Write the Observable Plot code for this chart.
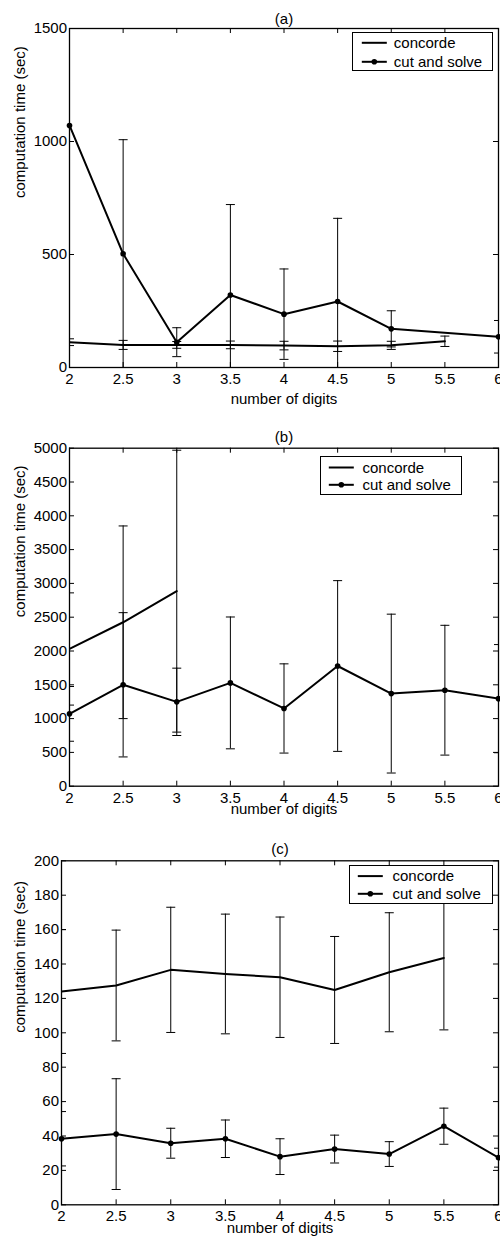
<!DOCTYPE html>
<html><head><meta charset="utf-8">
<script src="https://cdn.jsdelivr.net/npm/d3@7"></script>
<script src="https://cdn.jsdelivr.net/npm/@observablehq/plot@0.6"></script>
<style>
html,body{margin:0;padding:0;background:#fff;overflow:hidden}
#root{position:relative;width:500px;height:1243px;overflow:hidden;font-family:"Liberation Sans",Arial,sans-serif}
.panel{position:absolute;left:0;width:500px}
.panel svg{display:block;overflow:hidden}
.legend{position:absolute;background:#fff;border:1.2px solid #000;box-sizing:border-box}
.legend svg{display:block}
</style></head><body><div id="root"></div>
<script>
// ---------- data ----------
const digits = [2, 2.5, 3, 3.5, 4, 4.5, 5, 5.5, 6];
const xTicks = [2, 2.5, 3, 3.5, 4, 4.5, 5, 5.5, 6];
const seriesNames = ["concorde", "cut and solve"];

// (a)
const aConcordeDigits = [2, 2.5, 3, 3.5, 4, 4.5, 5, 5.5];
const aConcordeTime   = [112, 100, 100, 100, 97, 94, 98, 116];
const aConcordeErr    = [15, 20, 15, 17, 19, 23, 18, 23];
const aCutDigits = [2, 2.5, 3, 3.5, 4, 4.5, 5, 6];
const aCutTime   = [1071, 503, 112, 321, 236, 292, 171, 136];
const aCutErr    = [1100, 505, 64, 400, 200, 368, 80, 72];
const aYTicks = [0, 500, 1000, 1500];

// (b)
const bConcordeDigits = [2, 2.5, 3];
const bConcordeTime   = [2030, 2425, 2885];
const bConcordeErr    = [830, 1425, 2085];
const bCutDigits = [2, 2.5, 3, 3.5, 4, 4.5, 5, 5.5, 6];
const bCutTime   = [1070, 1500, 1248, 1528, 1150, 1778, 1370, 1420, 1295];
const bCutErr    = [405, 1067, 498, 975, 660, 1263, 1175, 960, 800];
const bYTicks = [0, 500, 1000, 1500, 2000, 2500, 3000, 3500, 4000, 4500, 5000];

// (c)
const cConcordeDigits = [2, 2.5, 3, 3.5, 4, 4.5, 5, 5.5];
const cConcordeTime   = [124, 127.5, 136.6, 134.2, 132.3, 124.9, 135.2, 143.5];
const cConcordeErr    = [36, 32.2, 36.4, 34.8, 35, 31.1, 34.6, 41.8];
const cCutDigits = [2, 2.5, 3, 3.5, 4, 4.5, 5, 5.5, 6];
const cCutTime   = [38.4, 41.1, 35.8, 38.4, 28.0, 32.4, 29.5, 45.7, 27.4];
const cCutErr    = [15.8, 32.2, 8.7, 10.9, 10.4, 8.1, 7.2, 10.5, 5.5];
const cYTicks = [0, 20, 40, 60, 80, 100, 120, 140, 160, 180, 200];

const titles = ["(a)", "(b)", "(c)"];
const xLabel = "number of digits";
const yLabel = "computation time (sec)";

// ---------- helpers ----------
const FONT = '"Liberation Sans", Arial, Helvetica, sans-serif';
const capSymbol = {draw(ctx, size) { const r = Math.sqrt(size / Math.PI); ctx.moveTo(-r, 0); ctx.lineTo(r, 0); }};
function rows(xs, ts, es) { return xs.map((x, i) => ({x, t: ts[i], lo: ts[i] - es[i], hi: ts[i] + es[i]})); }

const panels = [
  {top: 0, height: 414, mt: 28, mb: 47, ml: 69, mr: 2, dom: [0, 1500], yTicks: aYTicks, title: titles[0], tdy: -15, xdy: 36, ydx: -49,
   conc: rows(aConcordeDigits, aConcordeTime, aConcordeErr), cut: rows(aCutDigits, aCutTime, aCutErr),
   leg: {left: 351.7, top: 32, w: 141, h: 39, ry: [11, 30], lx: [10, 35], tx: 42}},
  {top: 414, height: 412, mt: 33.7, mb: 40.3, ml: 69, mr: 2, dom: [0, 5000], yTicks: bYTicks, title: titles[1], tdy: -17, xdy: 27.3, ydx: -49,
   conc: rows(bConcordeDigits, bConcordeTime, bConcordeErr), cut: rows(bCutDigits, bCutTime, bCutErr),
   leg: {left: 320, top: 456, w: 141.7, h: 39, ry: [11.7, 29], lx: [9, 34], tx: 42.7}},
  {top: 826, height: 417, mt: 34.3, mb: 38.7, ml: 61, mr: 2, dom: [0, 200], yTicks: cYTicks, title: titles[2], tdy: -17.3, xdy: 27.7, ydx: -41,
   conc: rows(cConcordeDigits, cConcordeTime, cConcordeErr), cut: rows(cCutDigits, cCutTime, cCutErr),
   leg: {left: 349, top: 865, w: 144.3, h: 39, ry: [11.3, 29], lx: [9, 34], tx: 43.7}}
];

const root = document.getElementById("root");

for (const p of panels) {
  const W = 500;
  const fw = W - p.ml - p.mr;
  const fh = p.height - p.mt - p.mb;
  const [y0, y1] = p.dom;
  const tick = 5;
  const errMarks = (data) => [
    Plot.ruleX(data, {x: "x", y1: d => Math.max(d.lo, y0), y2: d => Math.min(d.hi, y1), stroke: "black", strokeWidth: 1, clip: true}),
    Plot.dot(data.filter(d => d.lo >= y0), {x: "x", y: "lo", r: 4.5, symbol: capSymbol, fill: "none", stroke: "black", strokeWidth: 1, clip: true}),
    Plot.dot(data.filter(d => d.hi <= y1), {x: "x", y: "hi", r: 4.5, symbol: capSymbol, fill: "none", stroke: "black", strokeWidth: 1, clip: true})
  ];
  const chart = Plot.plot({
    width: W, height: p.height,
    marginLeft: p.ml, marginRight: p.mr, marginTop: p.mt, marginBottom: p.mb,
    style: {fontSize: "15px", fontFamily: FONT, color: "black", background: "white"},
    x: {domain: [2, 6]},
    y: {domain: p.dom},
    marks: [
      // inward ticks on all four sides
      Plot.tickY(p.yTicks, {y: d => d, insetRight: fw - tick, stroke: "black", strokeWidth: 1}),
      Plot.tickY(p.yTicks, {y: d => d, insetLeft: fw - tick, stroke: "black", strokeWidth: 1}),
      Plot.tickX(xTicks, {x: d => d, insetTop: fh - tick, stroke: "black", strokeWidth: 1}),
      Plot.tickX(xTicks, {x: d => d, insetBottom: fh - tick, stroke: "black", strokeWidth: 1}),
      Plot.axisY(p.yTicks, {tickSize: 0, tickPadding: 2.5, label: null, tickFormat: d => String(d), fill: "black"}),
      Plot.axisX(xTicks, {tickSize: 0, tickPadding: 6, label: null, tickFormat: d => String(d), fill: "black"}),
      // error bars
      ...errMarks(p.conc),
      ...errMarks(p.cut),
      // series
      Plot.line(p.conc, {x: "x", y: "t", stroke: "black", strokeWidth: 2, clip: true}),
      Plot.line(p.cut, {x: "x", y: "t", stroke: "black", strokeWidth: 2, clip: true}),
      Plot.dot(p.cut, {x: "x", y: "t", r: 2.8, fill: "black", stroke: "none"}),
      Plot.frame({stroke: "black", strokeWidth: 1.3}),
      // labels
      Plot.text([p.title], {text: d => d, frameAnchor: "top", dy: p.tdy, fontSize: 15, fill: "black"}),
      Plot.text([xLabel], {text: d => d, frameAnchor: "bottom", dy: p.xdy, fontSize: 15, fill: "black"}),
      Plot.text([yLabel], {text: d => d, frameAnchor: "left", dx: p.ydx, rotate: -90, fontSize: 15, fill: "black"})
    ]
  });
  const holder = document.createElement("div");
  holder.className = "panel";
  holder.style.top = p.top + "px";
  holder.appendChild(chart);
  root.appendChild(holder);

  // legend
  const L = p.leg;
  const box = document.createElement("div");
  box.className = "legend";
  Object.assign(box.style, {left: L.left + "px", top: L.top + "px", width: L.w + "px", height: L.h + "px"});
  const svg = d3.create("svg").attr("width", L.w - 2.4).attr("height", L.h - 2.4);
  seriesNames.forEach((name, i) => {
    const yy = L.ry[i] - 1.2;
    svg.append("line").attr("x1", L.lx[0] - 1.2).attr("x2", L.lx[1] - 1.2).attr("y1", yy).attr("y2", yy).attr("stroke", "black").attr("stroke-width", 2);
    if (i === 1) svg.append("circle").attr("cx", (L.lx[0] + L.lx[1]) / 2 - 1.2).attr("cy", yy).attr("r", 2.8).attr("fill", "black");
    svg.append("text").attr("x", L.tx - 1.2).attr("y", yy).attr("dy", "0.35em").attr("font-family", FONT).attr("font-size", 15).attr("fill", "black").text(name);
  });
  box.appendChild(svg.node());
  root.appendChild(box);
}
</script></body></html>
